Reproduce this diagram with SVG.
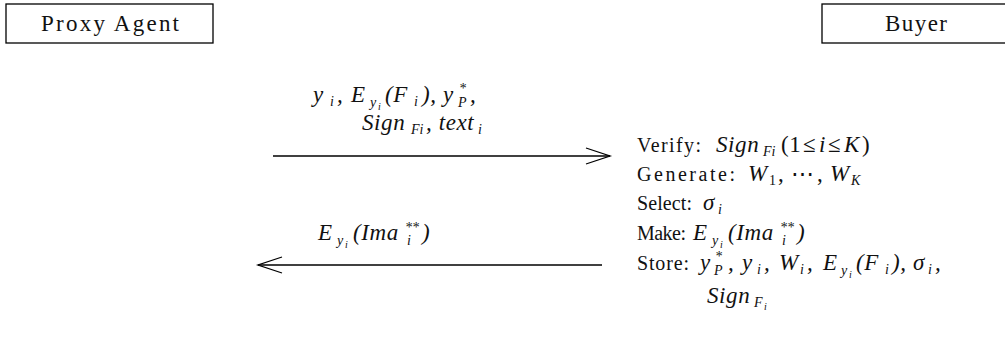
<svg xmlns="http://www.w3.org/2000/svg" width="1005" height="347" viewBox="0 0 1005 347">
<style>
.box{fill:#fff;stroke:#000;stroke-width:1.3}
.lbl{font-family:"Liberation Serif",serif;font-size:20px;fill:#111}
.big{font-size:23px}
.m{font-family:"Liberation Serif",serif;font-style:italic;font-size:23px;fill:#111;letter-spacing:0.6px}
.u{font-style:normal}
.s{font-size:14px;letter-spacing:0}
.ss{font-size:10px;letter-spacing:0}
.conn{stroke:#000;stroke-width:1.3;fill:none}
</style>
<defs>
<marker id="open" markerUnits="userSpaceOnUse" markerWidth="30" markerHeight="24" refX="25" refY="10" orient="auto-start-reverse" viewBox="0 0 30 24">
<polyline points="1,2 25,10 1,18" fill="none" stroke="#000" stroke-width="1.3"/>
</marker>
</defs>
<g id="proxy-agent">
<rect class="box" x="6" y="4" width="207" height="39"/>
<text class="lbl big" x="41" y="31" textLength="138" lengthAdjust="spacing">Proxy Agent</text>
</g>
<g id="buyer">
<rect class="box" x="822" y="4" width="190" height="39"/>
<text class="lbl big" x="885" y="31" textLength="62" lengthAdjust="spacing">Buyer</text>
</g>
<g id="connectors">
<line class="conn" x1="273" y1="156" x2="610" y2="156" marker-end="url(#open)"/>
<line class="conn" x1="258" y1="265" x2="602" y2="265" marker-start="url(#open)"/>
</g>
<g id="msg1">
<text class="m" y="102"><tspan x="313">y</tspan><tspan class="s" x="330" y="106">i</tspan><tspan x="337" y="102">,</tspan><tspan x="351">E</tspan><tspan class="s" x="370" y="107">y</tspan><tspan class="ss" x="378" y="110">i</tspan><tspan x="385" y="102">(F</tspan><tspan class="s" x="414" y="106">i</tspan><tspan x="422" y="102">),</tspan><tspan x="443">y</tspan><tspan class="s" x="459" y="93">*</tspan><tspan class="s" x="458" y="107">P</tspan><tspan x="470" y="102">,</tspan></text>
<text class="m" y="130"><tspan x="362">Sign</tspan><tspan class="s" x="411" y="134">Fi</tspan><tspan x="426" y="130">, text</tspan><tspan class="s" x="478" y="134">i</tspan></text>
</g>
<g id="msg2">
<text class="m" y="240"><tspan x="318">E</tspan><tspan class="s" x="337" y="245">y</tspan><tspan class="ss" x="345" y="248">i</tspan><tspan x="353" y="240">(Ima</tspan><tspan class="s" x="405" y="232">**</tspan><tspan class="s" x="407" y="245">i</tspan><tspan x="422" y="240">)</tspan></text>
</g>
<g id="buyer-actions">
<text class="lbl" x="637" y="152" textLength="64" lengthAdjust="spacing">Verify:</text>
<text class="m" y="152"><tspan x="716">Sign</tspan><tspan class="s" x="763" y="156">Fi</tspan><tspan class="u" x="781" y="152">(1</tspan><tspan class="u" x="803">≤</tspan><tspan x="819">i</tspan><tspan class="u" x="828">≤</tspan><tspan x="844">K</tspan><tspan class="u" x="862">)</tspan></text>
<text class="lbl" x="637" y="181" textLength="98" lengthAdjust="spacing">Generate:</text>
<text class="m" y="181"><tspan x="748">W</tspan><tspan class="s u" x="769" y="185">1</tspan><tspan class="u" x="778" y="181">,</tspan><tspan class="u" x="791">⋯</tspan><tspan class="u" x="817">,</tspan><tspan x="830">W</tspan><tspan class="s" x="851" y="185">K</tspan></text>
<text class="lbl" x="637" y="210" textLength="55" lengthAdjust="spacing">Select:</text>
<text class="m" y="210"><tspan x="703">σ</tspan><tspan class="s" x="718" y="214">i</tspan></text>
<text class="lbl" x="637" y="240" textLength="49" lengthAdjust="spacing">Make:</text>
<text class="m" y="240"><tspan x="693">E</tspan><tspan class="s" x="712" y="245">y</tspan><tspan class="ss" x="720" y="248">i</tspan><tspan x="728" y="240">(Ima</tspan><tspan class="s" x="780" y="232">**</tspan><tspan class="s" x="782" y="245">i</tspan><tspan x="797" y="240">)</tspan></text>
<text class="lbl" x="637" y="270" textLength="52" lengthAdjust="spacing">Store:</text>
<text class="m" y="270"><tspan x="700">y</tspan><tspan class="s" x="715" y="261">*</tspan><tspan class="s" x="714" y="275">P</tspan><tspan x="728" y="270">,</tspan><tspan x="742">y</tspan><tspan class="s" x="757" y="274">i</tspan><tspan x="764" y="270">,</tspan><tspan x="779">W</tspan><tspan class="s" x="800" y="274">i</tspan><tspan x="807" y="270">,</tspan><tspan x="823">E</tspan><tspan class="s" x="841" y="275">y</tspan><tspan class="ss" x="849" y="278">i</tspan><tspan x="856" y="270">(F</tspan><tspan class="s" x="885" y="274">i</tspan><tspan x="892" y="270">),</tspan><tspan x="913">σ</tspan><tspan class="s" x="928" y="274">i</tspan><tspan x="935" y="270">,</tspan></text>
<text class="m" y="303"><tspan x="707">Sign</tspan><tspan class="s" x="754" y="307">F</tspan><tspan class="ss" x="764" y="310">i</tspan></text>
</g>
</svg>
